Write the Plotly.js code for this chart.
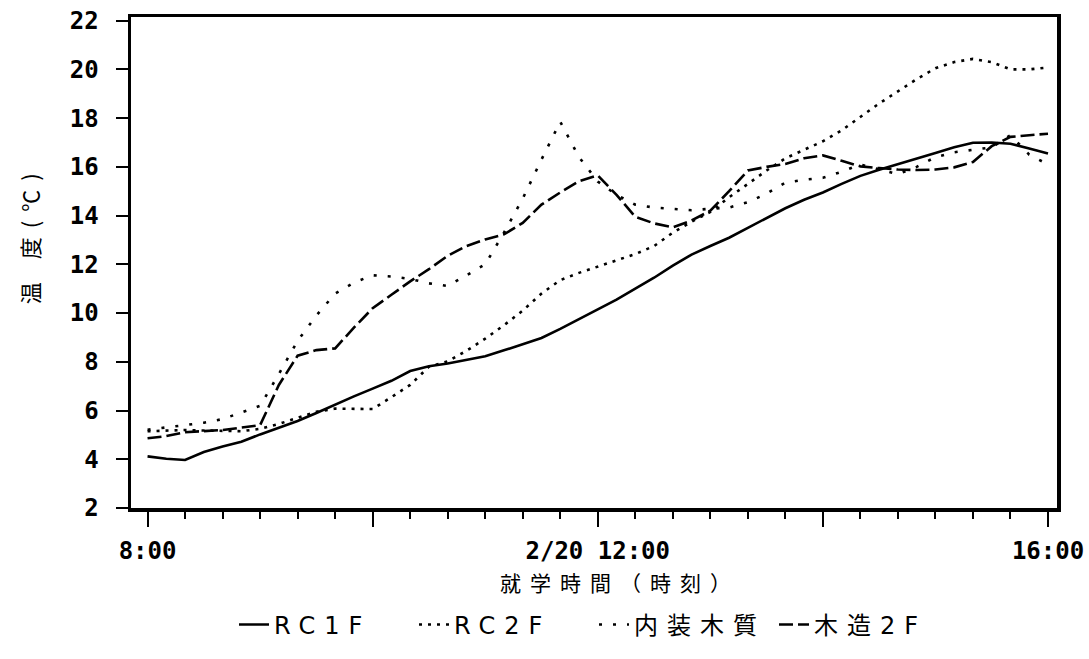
<!DOCTYPE html>
<html>
<head>
<meta charset="utf-8">
<script src="https://cdn.plot.ly/plotly-3.0.1.min.js"></script>
<style>
  html, body { margin: 0; padding: 0; background: #fff; }
  #chart { width: 1089px; height: 659px; }
  .legendtext { letter-spacing: 9px; }
  .xtitle { letter-spacing: 9px; transform: translate(26px, -3px); }
  .annotation-text { letter-spacing: 9px; }
</style>
</head>
<body>
<div id="chart"></div>
<script>
// Sampling times (every 10 minutes, 8:00 - 16:00)
const timeLabels = [
  '8:00','8:10','8:20','8:30','8:40','8:50',
  '9:00','9:10','9:20','9:30','9:40','9:50',
  '10:00','10:10','10:20','10:30','10:40','10:50',
  '11:00','11:10','11:20','11:30','11:40','11:50',
  '12:00','12:10','12:20','12:30','12:40','12:50',
  '13:00','13:10','13:20','13:30','13:40','13:50',
  '14:00','14:10','14:20','14:30','14:40','14:50',
  '15:00','15:10','15:20','15:30','15:40','15:50',
  '16:00'
];

// Room temperatures (°C)
const rc1f = [4.12,4.02,3.97,4.30,4.52,4.72,5.02,5.30,5.57,5.90,6.25,6.58,
  6.90,7.22,7.62,7.82,7.93,8.08,8.23,8.47,8.72,8.98,9.35,9.75,
  10.15,10.55,11.00,11.45,11.95,12.40,12.75,13.09,13.50,13.90,14.30,14.65,
  14.95,15.30,15.63,15.88,16.10,16.35,16.57,16.80,16.99,17.00,16.95,16.75,16.55];
const rc2f = [5.15,5.18,5.20,5.18,5.15,5.15,5.25,5.45,5.70,5.95,6.08,6.07,
  6.06,6.55,7.05,7.80,8.02,8.45,8.95,9.50,10.10,10.80,11.35,11.65,
  11.90,12.18,12.42,12.75,13.30,13.75,14.15,14.75,15.30,15.85,16.35,16.70,
  17.05,17.50,18.05,18.60,19.10,19.60,20.05,20.30,20.43,20.30,20.00,20.00,20.08];
const naisou = [5.21,5.30,5.38,5.50,5.65,5.92,6.19,7.50,8.86,9.90,10.80,11.25,
  11.55,11.50,11.40,11.22,11.11,11.55,12.00,13.30,14.70,16.30,17.85,16.40,
  15.40,14.85,14.45,14.33,14.26,14.22,14.28,14.33,14.55,14.90,15.35,15.47,
  15.55,15.80,16.10,15.90,15.70,16.00,16.40,16.60,16.70,16.80,17.30,16.50,16.10];
const mokuzo = [4.86,4.95,5.11,5.15,5.20,5.30,5.40,7.05,8.25,8.48,8.55,9.40,
  10.20,10.75,11.30,11.80,12.35,12.75,13.02,13.23,13.70,14.45,14.95,15.41,
  15.65,14.85,13.95,13.68,13.52,13.80,14.20,15.00,15.85,16.00,16.12,16.35,
  16.47,16.25,16.02,15.95,15.89,15.87,15.89,15.98,16.20,16.85,17.23,17.30,17.36];

const seriesNames = ['RC1F', 'RC2F', '内装木質', '木造2F'];

// Axis ticks
const tickHours = [8, 10, 12, 14, 16];
const tickText = ['8:00', '', '2/20 12:00', '', '16:00'];
const yTicks = [2,4,6,8,10,12,14,16,18,20,22];

const toHours = t => { const p = t.split(':').map(Number); return p[0] + p[1] / 60; };
const hours = timeLabels.map(toHours);

const dashes = ['solid', '3px,6px', '3px,11px', '14px,5px'];
const values = [rc1f, rc2f, naisou, mokuzo];

const traces = values.map((v, i) => ({
  x: hours,
  y: v,
  name: seriesNames[i],
  type: 'scatter',
  mode: 'lines',
  line: { color: '#000', width: 2.6, dash: dashes[i] },
  hoverinfo: 'skip'
}));

const tickFont = { family: 'DejaVu Sans Mono', size: 24, weight: 'bold', color: '#000' };

const layout = {
  width: 1089,
  height: 659,
  margin: { l: 131, r: 32, t: 17, b: 151 },
  paper_bgcolor: '#fff',
  plot_bgcolor: '#fff',
  showlegend: true,
  legend: {
    orientation: 'h',
    x: 0.5, xanchor: 'center',
    y: -0.238, yanchor: 'middle',
    entrywidthmode: 'pixels',
    entrywidth: 135,
    font: { family: 'DejaVu Sans, Noto Sans CJK JP', size: 24, color: '#000' },
    bgcolor: 'rgba(0,0,0,0)'
  },
  xaxis: {
    range: [7.853, 16.08],
    tickmode: 'array',
    tickvals: tickHours,
    ticktext: tickText,
    ticks: 'outside',
    ticklen: 15,
    tickwidth: 2,
    tickcolor: '#000',
    ticklabelstandoff: 4,
    minor: { tickmode: 'linear', tick0: 8, dtick: 1 / 3, ticks: 'outside', ticklen: 7, tickwidth: 2, tickcolor: '#000', showgrid: false },
    showline: true, linewidth: 3.5, linecolor: '#000', mirror: true,
    showgrid: false, zeroline: false,
    tickfont: tickFont,
    title: { text: '就学時間（時刻）', font: { family: 'Noto Sans CJK JP', size: 21, color: '#000' }, standoff: 16 }
  },
  yaxis: {
    range: [2, 22.15],
    tickmode: 'array',
    tickvals: yTicks,
    ticks: 'outside',
    ticklen: 12,
    tickwidth: 2,
    tickcolor: '#000',
    ticklabelstandoff: 12,
    showline: true, linewidth: 3.5, linecolor: '#000', mirror: true,
    showgrid: false, zeroline: false,
    tickfont: tickFont
  },
  annotations: [{
    text: '温 度(℃)',
    xref: 'paper', yref: 'paper',
    x: -0.110, y: 0.558,
    xanchor: 'center', yanchor: 'middle',
    textangle: -90,
    showarrow: false,
    font: { family: 'Noto Sans CJK JP', size: 22, color: '#000' }
  }]
};

Plotly.newPlot('chart', traces, layout, { staticPlot: true, displayModeBar: false });
</script>
</body>
</html>
